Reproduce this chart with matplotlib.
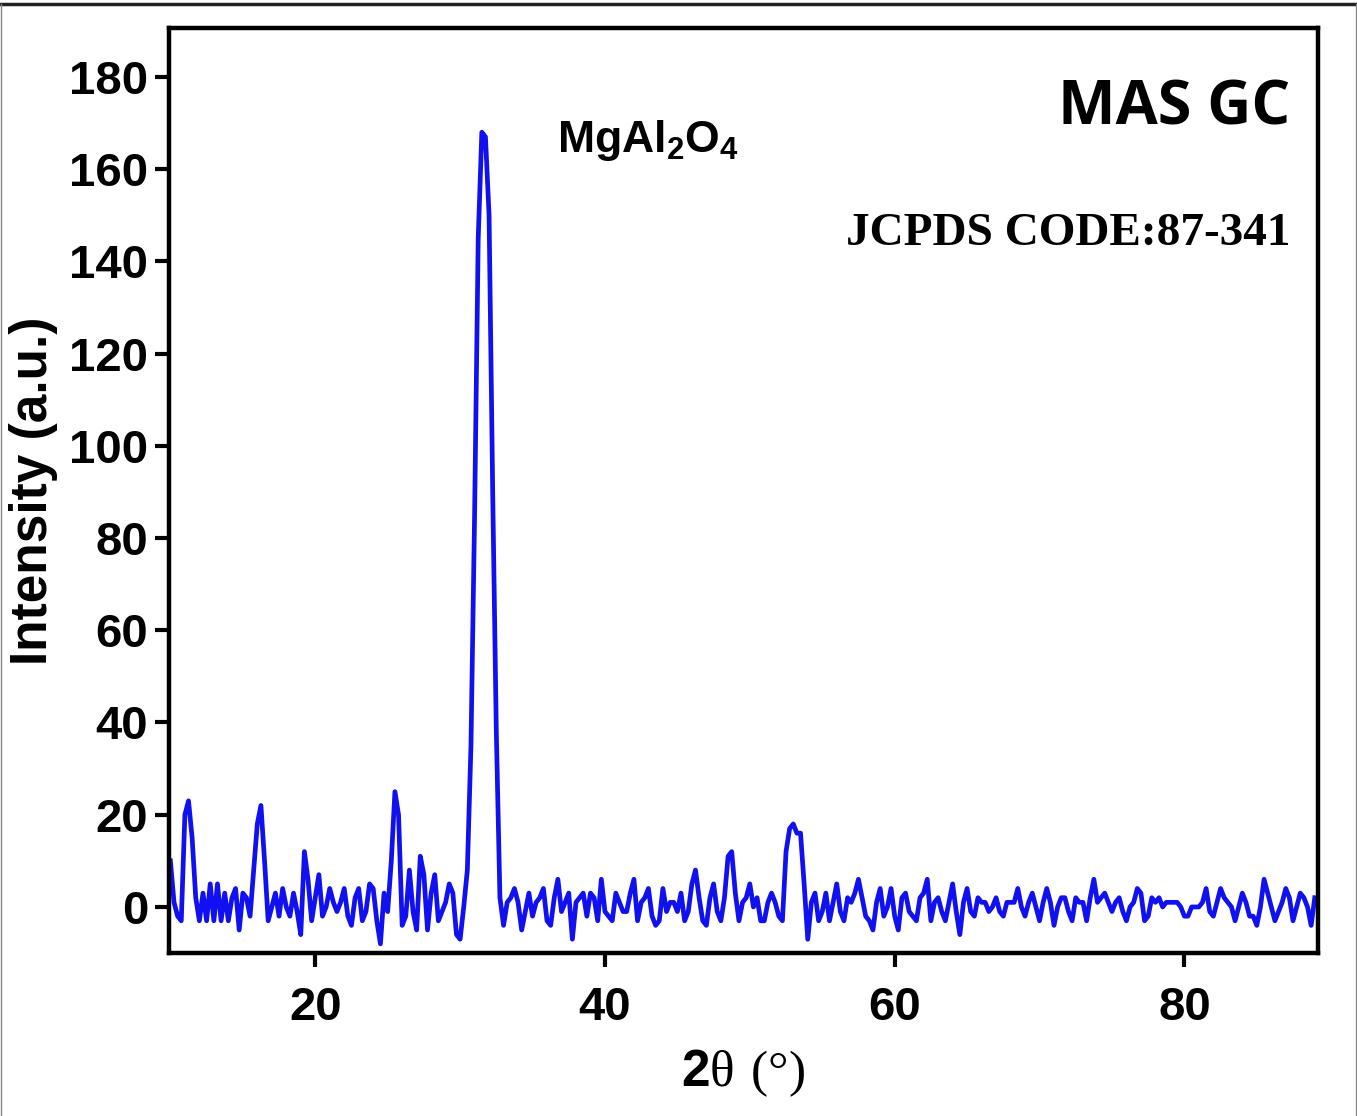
import numpy as np
import matplotlib
matplotlib.use("Agg")
import matplotlib.pyplot as plt
from matplotlib.lines import Line2D

plt.rcParams["mathtext.fontset"] = "custom"
plt.rcParams["mathtext.rm"] = "Liberation Serif"
plt.rcParams["mathtext.bf"] = "Liberation Sans:bold"

# XRD pattern of MAS GC on a 0.25 deg grid
two_theta_start = 10.0
two_theta_step = 0.25

intensity = [
    # 10 - 14.75
    10, 1, -2, -3, 20, 23, 15, 2, -3, 3, -3, 5, -3, 5, -3, 3, -3, 2, 4, -5,
    # 15 - 19.75
    3, 2, -2, 8, 18, 22, 10, -3, 0, 3, -2, 4, 0, -2, 3, -1, -6, 12, 6, -3,
    # 20 - 24.75
    2, 7, -2, 0, 4, 1, -1, 1, 4, -2, -4, 2, 4, -3, -1, 5, 4, -3, -8, 3,
    # 25 - 29.75
    -1, 10, 25, 20, -4, -2, 8, -1, -5, 11, 7, -5, 3, 7, -3, -1, 1, 5, 3, -6,
    # 30 - 34.75
    -7, 0, 8, 35, 85, 145, 168, 167, 150, 90, 38, 2, -4, 1, 2, 4, 1, -5, -1, 3,
    # 35 - 39.75
    -2, 1, 2, 4, -3, -4, 2, 6, -1, 1, 3, -7, 1, 2, 3, -2, 3, 2, -3, 6,
    # 40 - 44.75
    -1, -2, -3, 3, 1, -1, -1, 3, 6, -3, 1, 2, 4, -2, -4, -3, 4, -1, 1, 1,
    # 45 - 49.75
    -1, 3, -3, -1, 5, 8, 2, -3, -4, 2, 5, -1, -3, 2, 11, 12, 3, -3, 1, 2,
    # 50 - 54.75
    5, 0, 2, -3, -3, 1, 3, 1, -2, -3, 12, 17, 18, 16, 16, 5, -7, 1, 3, -3,
    # 55 - 59.75
    -1, 3, -3, 1, 5, -1, -3, 2, 1, 3, 6, 2, -2, -3, -5, 1, 4, -2, 0, 4,
    # 60 - 64.75
    -2, -5, 2, 3, -1, -2, -3, 2, 3, 6, -3, 1, 2, -1, -3, 1, 5, -1, -6, 1,
    # 65 - 69.75
    4, -1, -2, 2, 1, 1, -1, 0, 2, -1, -2, 1, 1, 1, 4, 0, -2, 1, 3, 0,
    # 70 - 74.75
    -3, 1, 4, 1, -4, 0, 2, 2, -1, -3, 2, 1, 1, -3, 2, 6, 1, 2, 3, 1,
    # 75 - 79.75
    -1, 1, 2, -1, -3, 0, 1, 4, 3, -3, -2, 2, 1, 2, 0, 1, 1, 1, 1, 0,
    # 80 - 84.75
    -2, -2, 0, 0, 0, 1, 4, -1, -2, 1, 4, 2, 1, 0, -3, 0, 3, 1, -2, -2,
    # 85 - 89
    -4, 0, 6, 3, 0, -3, -1, 1, 4, 2, -3, 0, 3, 2, 0, -4, 2,
]
two_theta = two_theta_start + two_theta_step * np.arange(len(intensity))

y_ticks = [0, 20, 40, 60, 80, 100, 120, 140, 160, 180]
x_ticks = [20, 40, 60, 80]

fig = plt.figure(figsize=(13.57, 11.16), dpi=100)
ax = fig.add_axes([0.1245, 0.146, 0.8465, 0.8285])

ax.plot(two_theta, intensity, color="#1010f0", lw=3.4)

ax.set_xlim(9.9, 89.2)
ax.set_ylim(-10, 190.5)
ax.set_xticks(x_ticks)
ax.set_yticks(y_ticks)

for s in ax.spines.values():
    s.set_linewidth(3.2)
ax.tick_params(width=3, length=10, direction="out")
ax.tick_params(axis="x", pad=14)
ax.tick_params(axis="y", pad=5)
for lab in ax.get_xticklabels() + ax.get_yticklabels():
    lab.set_fontfamily("Liberation Sans")
    lab.set_fontweight("bold")
    lab.set_fontsize(34)

ax.set_ylabel("Intensity (a.u.)", fontsize=37, fontweight="bold",
              family="Liberation Sans", labelpad=8)
ax.set_xlabel(r"$\mathbf{2}\mathrm{\theta\ (°)}$", fontsize=37, labelpad=12)

ax.text(0.338, 0.879, r"MgAl$_\mathbf{2}$O$_\mathbf{4}$", transform=ax.transAxes,
        fontsize=32, fontweight="bold", family="Liberation Sans",
        ha="left", va="center")
ax.text(0.976, 0.913, "MAS GC", transform=ax.transAxes, fontsize=44,
        fontweight="bold", family="Open Sans", ha="right", va="center")
ax.text(0.976, 0.778, "JCPDS CODE:87-341", transform=ax.transAxes,
        fontsize=34, fontweight="bold", family="Liberation Serif",
        ha="right", va="center")

# frame of the source image
fig.add_artist(Line2D([0, 1], [0.996, 0.996], color="#222222", lw=2.5))
fig.add_artist(Line2D([0.0008, 0.0008], [0, 0.996], color="#888888", lw=1))
fig.add_artist(Line2D([0.9992, 0.9992], [0, 0.996], color="#888888", lw=1))

fig.savefig("out.png", dpi=100)
